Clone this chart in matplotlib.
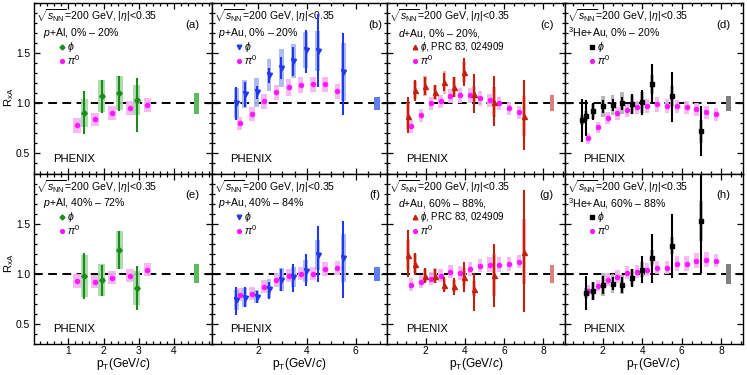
import matplotlib
matplotlib.use('Agg')
import matplotlib.pyplot as plt
from matplotlib.patches import Rectangle
from matplotlib.ticker import MultipleLocator, FormatStrFormatter, FixedLocator

plt.rcParams['font.family'] = ['Liberation Sans', 'DejaVu Sans']
plt.rcParams['mathtext.fontset'] = 'custom'
plt.rcParams['mathtext.rm'] = 'Liberation Sans'
plt.rcParams['mathtext.it'] = 'Liberation Sans:italic'
plt.rcParams['mathtext.bf'] = 'Liberation Sans:bold'

# ---------------- data ----------------
# (a) p+Al 0-20%
a_phi_x = [1.45, 1.95, 2.45, 2.95]
a_phi_y = [0.90, 1.07, 1.10, 1.03]
a_phi_lo = [0.21, 0.17, 0.18, 0.32]
a_phi_hi = [0.22, 0.16, 0.17, 0.22]
a_phi_sys = [0.14, 0.16, 0.17, 0.15]
a_pi_x = [1.25, 1.75, 2.25, 2.75, 3.25]
a_pi_y = [0.78, 0.84, 0.90, 0.95, 0.98]
a_pi_sys = [0.075, 0.067, 0.07, 0.07, 0.07]
a_glob = 0.103
# (e) p+Al 40-72%
e_phi_x = [1.45, 1.95, 2.45, 2.95]
e_phi_y = [0.98, 0.94, 1.24, 0.86]
e_phi_lo = [0.23, 0.16, 0.19, 0.22]
e_phi_hi = [0.23, 0.15, 0.19, 0.22]
e_phi_sys = [0.21, 0.16, 0.19, 0.17]
e_pi_x = [1.25, 1.75, 2.25, 2.75, 3.25]
e_pi_y = [0.93, 0.92, 0.96, 0.98, 1.04]
e_pi_sys = [0.07, 0.065, 0.067, 0.067, 0.067]
e_glob = 0.093

# (b) p+Au 0-20%
b_phi_x = [1.1, 1.45, 1.95, 2.45, 2.95, 3.45, 3.95, 4.45, 5.5]
b_phi_y = [1.00, 1.09, 1.11, 1.28, 1.35, 1.42, 1.53, 1.52, 1.31]
b_phi_lo = [0.17, 0.125, 0.065, 0.075, 0.11, 0.145, 0.227, 0.357, 0.43]
b_phi_hi = [0.16, 0.125, 0.065, 0.075, 0.11, 0.145, 0.20, 0.377, 0.397]
b_phi_sys = [0.15, 0.14, 0.145, 0.16, 0.19, 0.17, 0.18, 0.20, 0.29]
b_pi_x = [1.25, 1.75, 2.25, 2.75, 3.25, 3.75, 4.25, 4.75, 5.25]
b_pi_y = [0.80, 0.89, 1.02, 1.11, 1.16, 1.18, 1.19, 1.19, 1.12]
b_pi_sys = [0.067, 0.07, 0.075, 0.075, 0.085, 0.08, 0.075, 0.075, 0.075]
b_glob = 0.067
# (f) p+Au 40-84%
f_phi_x = [1.1, 1.45, 1.95, 2.45, 2.95, 3.45, 3.95, 4.45, 5.5]
f_phi_y = [0.74, 0.76, 0.77, 0.85, 0.94, 0.97, 1.03, 1.19, 1.16]
f_phi_lo = [0.157, 0.09, 0.06, 0.10, 0.11, 0.15, 0.157, 0.27, 0.40]
f_phi_hi = [0.127, 0.103, 0.06, 0.067, 0.11, 0.123, 0.17, 0.29, 0.367]
f_phi_sys = [0.10, 0.095, 0.067, 0.095, 0.113, 0.10, 0.11, 0.15, 0.24]
f_pi_x = [1.25, 1.75, 2.25, 2.75, 3.25, 3.75, 4.25, 4.75, 5.25]
f_pi_y = [0.79, 0.80, 0.87, 0.94, 0.98, 1.00, 1.00, 1.05, 1.06]
f_pi_sys = [0.063, 0.063, 0.067, 0.07, 0.067, 0.067, 0.067, 0.07, 0.07]
f_glob = 0.07

# (c) d+Au 0-20%
c_phi_x = [1.1, 1.45, 1.95, 2.45, 2.95, 3.45, 3.95, 4.45, 5.5, 7.0]
c_phi_y = [0.87, 1.13, 1.17, 1.11, 1.21, 1.16, 1.31, 1.09, 1.01, 0.87]
c_phi_lo = [0.167, 0.11, 0.09, 0.07, 0.09, 0.10, 0.14, 0.19, 0.233, 0.333]
c_phi_hi = [0.193, 0.107, 0.09, 0.07, 0.09, 0.10, 0.14, 0.20, 0.26, 0.36]
c_phi_sys = [0.13, 0.09, 0.10, 0.077, 0.113, 0.10, 0.10, 0.08, 0.15, 0.20]
c_pi_x = [1.25, 1.75, 2.25, 2.75, 3.25, 3.75, 4.25, 4.75, 5.25, 5.75, 6.25, 6.75]
c_pi_y = [0.77, 0.88, 1.00, 1.02, 1.07, 1.08, 1.08, 1.05, 1.03, 1.00, 0.95, 0.91]
c_pi_sys = [0.065, 0.063, 0.065, 0.067, 0.07, 0.072, 0.075, 0.072, 0.065, 0.065, 0.065, 0.065]
c_glob = 0.08
# (g) d+Au 60-88%
g_phi_x = [1.1, 1.45, 1.95, 2.45, 2.95, 3.45, 3.95, 4.45, 5.5, 7.0]
g_phi_y = [1.19, 1.10, 0.98, 0.98, 0.89, 0.88, 0.97, 0.85, 0.99, 1.22]
g_phi_lo = [0.223, 0.11, 0.075, 0.07, 0.075, 0.09, 0.15, 0.227, 0.323, 0.60]
g_phi_hi = [0.243, 0.11, 0.075, 0.07, 0.075, 0.077, 0.15, 0.157, 0.31, 0.617]
g_phi_sys = [0.15, 0.095, 0.067, 0.075, 0.06, 0.06, 0.09, 0.075, 0.21, 0.325]
g_pi_x = [1.25, 1.75, 2.25, 2.75, 3.25, 3.75, 4.25, 4.75, 5.25, 5.75, 6.25, 6.75]
g_pi_y = [0.89, 0.92, 0.95, 0.98, 1.02, 1.01, 1.05, 1.08, 1.09, 1.09, 1.10, 1.12]
g_pi_sys = [0.067, 0.067, 0.067, 0.068, 0.068, 0.07, 0.07, 0.067, 0.072, 0.072, 0.07, 0.067]
g_glob = 0.09

# (d) 3He+Au 0-20%
d_phi_x = [0.95, 1.15, 1.5, 2.0, 2.5, 3.0, 3.5, 4.0, 4.5, 5.5, 7.0]
d_phi_y = [0.83, 0.87, 0.92, 0.97, 0.98, 1.00, 0.99, 1.01, 1.19, 1.07, 0.72]
d_phi_lo = [0.217, 0.20, 0.085, 0.067, 0.06, 0.067, 0.10, 0.123, 0.173, 0.257, 0.25]
d_phi_hi = [0.21, 0.167, 0.085, 0.067, 0.06, 0.067, 0.10, 0.127, 0.20, 0.243, 0.25]
d_phi_sys = [0.05, 0.05, 0.075, 0.107, 0.10, 0.11, 0.097, 0.108, 0.095, 0.10, 0.113]
d_pi_x = [1.25, 1.75, 2.25, 2.75, 3.25, 3.75, 4.25, 4.75, 5.25, 5.75, 6.25, 6.75, 7.25, 7.75]
d_pi_y = [0.65, 0.76, 0.85, 0.90, 0.93, 0.96, 0.97, 0.99, 0.97, 0.97, 0.96, 0.94, 0.91, 0.89]
d_pi_sys = [0.057, 0.058, 0.06, 0.063, 0.067, 0.067, 0.07, 0.072, 0.07, 0.067, 0.067, 0.067, 0.067, 0.065]
d_glob = 0.075
# (h) 3He+Au 60-88%
h_phi_x = [1.15, 1.5, 2.0, 2.5, 3.0, 3.5, 4.0, 4.5, 5.5, 7.0]
h_phi_y = [0.81, 0.83, 0.89, 0.90, 0.89, 0.96, 1.04, 1.16, 1.28, 1.53]
h_phi_lo = [0.17, 0.09, 0.09, 0.067, 0.08, 0.09, 0.137, 0.257, 0.323, 0.523]
h_phi_hi = [0.163, 0.09, 0.09, 0.067, 0.08, 0.09, 0.137, 0.237, 0.32, 0.55]
h_phi_sys = [0.05, 0.09, 0.113, 0.095, 0.095, 0.083, 0.078, 0.075, 0.083, 0.20]
h_pi_x = [1.25, 1.75, 2.25, 2.75, 3.25, 3.75, 4.25, 4.75, 5.25, 5.75, 6.25, 6.75, 7.25, 7.75]
h_pi_y = [0.83, 0.88, 0.94, 0.97, 1.01, 1.02, 1.04, 1.06, 1.06, 1.10, 1.10, 1.13, 1.14, 1.13]
h_pi_sys = [0.058, 0.058, 0.063, 0.067, 0.067, 0.067, 0.067, 0.067, 0.067, 0.075, 0.075, 0.075, 0.075, 0.067]
h_glob = 0.10

# tick labels
y_ticks = [0.5, 1.0, 1.5]
col_xticks = [[1, 2, 3, 4], [2, 4, 6], [2, 4, 6, 8], [2, 4, 6, 8]]

# ---------------- style per column ----------------
col_xlim = [(0.03, 5.08), (0.1, 7.3), (0.03, 9.08), (0.07, 9.08)]
col_glob_x = [4.65, 6.88, 8.44, 8.38]
col_glob_w = [0.15, 0.22, 0.22, 0.22]
col_minor = [0.2, 0.5, 0.5, 0.5]
col_marker = ['D', 'v', '^', 's']
col_msize = [2.8, 3.6, 3.6, 3.2]
col_color = ['#1b8c1b', '#2038f0', '#c42010', '#000000']
col_box = ['#a4daa4', '#a6b6f2', '#eeaaa0', '#b0b0b0']
col_glob_c = ['#5fba5f', '#5f7ff0', '#e07f7f', '#808080']
col_sys = ['$p$+Al', '$p$+Au', '$d$+Au', '$^{3}$He+Au']
top_cent = ['0% \u2013 20%', '0% \u2013 20%', '0% \u2013 20%,', '0% \u2013 20%']
bot_cent = ['40% \u2013 72%', '40% \u2013 84%', '60% \u2013 88%,', '60% \u2013 88%']
top_tags = ['(a)', '(b)', '(c)', '(d)']
bot_tags = ['(e)', '(f)', '(g)', '(h)']
phi_labels = [r'$\phi$', r'$\phi$', r'$\phi$, PRC 83, 024909', r'$\phi$']
tag_x = [0.89, 0.93, 0.90, 0.89]

top_data = [
    (a_phi_x, a_phi_y, a_phi_lo, a_phi_hi, a_phi_sys, a_pi_x, a_pi_y, a_pi_sys, a_glob),
    (b_phi_x, b_phi_y, b_phi_lo, b_phi_hi, b_phi_sys, b_pi_x, b_pi_y, b_pi_sys, b_glob),
    (c_phi_x, c_phi_y, c_phi_lo, c_phi_hi, c_phi_sys, c_pi_x, c_pi_y, c_pi_sys, c_glob),
    (d_phi_x, d_phi_y, d_phi_lo, d_phi_hi, d_phi_sys, d_pi_x, d_pi_y, d_pi_sys, d_glob),
]
bot_data = [
    (e_phi_x, e_phi_y, e_phi_lo, e_phi_hi, e_phi_sys, e_pi_x, e_pi_y, e_pi_sys, e_glob),
    (f_phi_x, f_phi_y, f_phi_lo, f_phi_hi, f_phi_sys, f_pi_x, f_pi_y, f_pi_sys, f_glob),
    (g_phi_x, g_phi_y, g_phi_lo, g_phi_hi, g_phi_sys, g_pi_x, g_pi_y, g_pi_sys, g_glob),
    (h_phi_x, h_phi_y, h_phi_lo, h_phi_hi, h_phi_sys, h_pi_x, h_pi_y, h_pi_sys, h_glob),
]

PI_COLOR = '#ff1aff'
PI_BOX = '#f6b2f2'

W, H = 747, 375
fig = plt.figure(figsize=(W / 100, H / 100), dpi=100)
col_left = [34.3, 211.7, 387.3, 564.5]
col_right = [211.7, 387.3, 564.5, 742.5]
row_top = [3.3, 173.5]
row_bot = [173.5, 343.7]

FS = 7.6

for r in range(2):
    for c in range(4):
        l, rr = col_left[c], col_right[c]
        t, b = row_top[r], row_bot[r]
        ax = fig.add_axes([l / W, 1 - b / H, (rr - l) / W, (b - t) / H])
        ax.set_xlim(*col_xlim[c])
        ax.set_ylim(0.3, 2.0)
        px, py, plo, phi_, psys, qx, qy, qsys, glob = (top_data if r == 0 else bot_data)[c]

        ax.axhline(1.0, color='k', lw=1.4, ls=(0, (4.5, 2.8)), zorder=2)

        # pi0 sys boxes
        bw = 0.22
        for x, y, s in zip(qx, qy, qsys):
            ax.add_patch(Rectangle((x - bw / 2, y - s), bw, 2 * s, facecolor=PI_BOX,
                                   edgecolor='none', alpha=0.9, zorder=3))
        # phi sys boxes
        pw = 0.2
        for x, y, s in zip(px, py, psys):
            ax.add_patch(Rectangle((x - pw / 2, y - s), pw, 2 * s, facecolor=col_box[c],
                                   edgecolor='none', alpha=0.9, zorder=4))
        # global normalization box
        gw = col_glob_w[c]
        ax.add_patch(Rectangle((col_glob_x[c] - gw / 2, 1.0 - glob), gw, 2 * glob,
                               facecolor=col_glob_c[c], edgecolor='none', zorder=4))
        # pi0 points
        ax.errorbar(qx, qy, yerr=[[0.012] * len(qx), [0.012] * len(qx)], fmt='o',
                    color=PI_COLOR, ms=3.0, mec=PI_COLOR, elinewidth=1.0, capsize=0,
                    zorder=5)
        # phi points
        ax.errorbar(px, py, yerr=[plo, phi_], fmt=col_marker[c], color=col_color[c],
                    ms=col_msize[c], mec=col_color[c], elinewidth=1.5, capsize=0,
                    zorder=6)

        # ticks
        ax.yaxis.set_major_locator(FixedLocator(y_ticks))
        ax.yaxis.set_minor_locator(MultipleLocator(0.1))
        ax.xaxis.set_major_locator(FixedLocator(col_xticks[c]))
        ax.xaxis.set_minor_locator(MultipleLocator(col_minor[c]))
        ax.yaxis.set_major_formatter(FormatStrFormatter('%.1f'))
        ax.tick_params(which='both', direction='in', top=True, right=True,
                       labelsize=7.4, width=0.9)
        ax.tick_params(which='major', length=4.5)
        ax.tick_params(which='minor', length=2.3)
        ax.tick_params(axis='x', pad=1.5)
        ax.tick_params(axis='y', pad=3)
        if c != 0:
            ax.tick_params(labelleft=False)
        if r == 0:
            ax.tick_params(labelbottom=False)
        for sp in ax.spines.values():
            sp.set_linewidth(1.0)

        # texts
        ax.text(0.012, 0.925, r'$\sqrt{s_{\rm NN}}$=200 GeV, |$\eta$|<0.35',
                transform=ax.transAxes, fontsize=FS, va='center', ha='left')
        sys_x = [0.05, 0.037, 0.06, 0.022][c]
        cent = top_cent[c] if r == 0 else bot_cent[c]
        ax.text(sys_x, 0.825, col_sys[c] + ', ' + cent, transform=ax.transAxes,
                fontsize=FS, va='center', ha='left')
        ax.text(tag_x[c], 0.872, (top_tags if r == 0 else bot_tags)[c],
                transform=ax.transAxes, fontsize=FS + 0.6, va='center', ha='center')
        ax.text(0.105, 0.088, 'PHENIX', transform=ax.transAxes, fontsize=FS + 0.6,
                va='center', ha='left')
        # legend
        ax.plot([0.156], [0.745], marker=col_marker[c], color=col_color[c],
                ms=col_msize[c] - 0.3, transform=ax.transAxes, ls='none', clip_on=False,
                zorder=7)
        ax.text(0.185, 0.745, phi_labels[c], transform=ax.transAxes,
                fontsize=FS if c != 2 else FS - 0.6, va='center', ha='left')
        ax.plot([0.156], [0.66], marker='o', color=PI_COLOR, ms=2.8,
                transform=ax.transAxes, ls='none', clip_on=False, zorder=7)
        ax.text(0.185, 0.665, r'$\pi^0$', transform=ax.transAxes, fontsize=FS,
                va='center', ha='left')

        if r == 1:
            ax.set_xlabel(r'p$_{\rm T}$(GeV/$c$)', fontsize=FS + 1.0, labelpad=0.5)

# y labels
fig.text(9 / W, 1 - 97 / H, r'R$_{\rm xA}$', rotation=90, fontsize=FS + 0.6,
         ha='center', va='center')
fig.text(9 / W, 1 - 263 / H, r'R$_{\rm xA}$', rotation=90, fontsize=FS + 0.6,
         ha='center', va='center')

fig.savefig('out.png', dpi=100)
